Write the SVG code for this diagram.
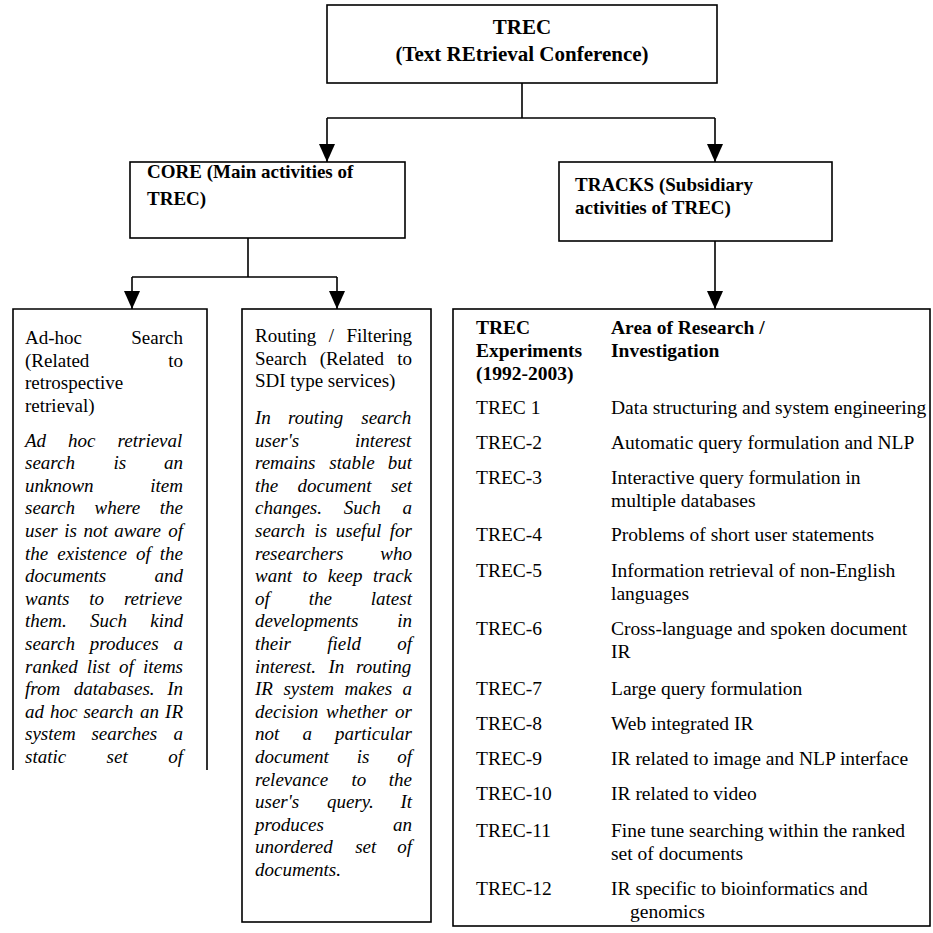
<svg xmlns="http://www.w3.org/2000/svg" width="933" height="933" viewBox="0 0 933 933">
<style>
.box{fill:#fff;stroke:#000;stroke-width:1.6}
.ln{fill:none;stroke:#000;stroke-width:1.6}
.t{font-family:"Liberation Serif","Times New Roman",serif;fill:#000}
.b{font-weight:bold}
.it{font-style:italic;font-size:19px}
.rm{font-size:19px}
.tb{font-size:19.5px}
</style>
<defs>
<marker id="arr" viewBox="0 0 18 16" refX="18" refY="8" markerWidth="18" markerHeight="16" markerUnits="userSpaceOnUse" orient="auto">
<path d="M0,0 L18,8 L0,16 z" fill="#000"/>
</marker>
</defs>
<rect width="933" height="933" fill="#fff"/>

<g id="connectors">
<path class="ln" d="M522,83 V118 M327,118 H715"/>
<path class="ln" d="M327,118 V162" marker-end="url(#arr)"/>
<path class="ln" d="M715,118 V162" marker-end="url(#arr)"/>
<path class="ln" d="M248,238 V277 M132,277 H337"/>
<path class="ln" d="M132,277 V309" marker-end="url(#arr)"/>
<path class="ln" d="M337,277 V309" marker-end="url(#arr)"/>
<path class="ln" d="M715,241 V309" marker-end="url(#arr)"/>
</g>

<g id="trec">
<rect class="box" x="327" y="5" width="390" height="78"/>
<text class="t b" x="522" y="34" font-size="21" text-anchor="middle">TREC</text>
<text class="t b" x="522" y="61" font-size="21" text-anchor="middle">(Text REtrieval Conference)</text>
</g>

<g id="core">
<rect class="box" x="130" y="162" width="275" height="76"/>
<text class="t b rm" x="147" y="178">CORE (Main activities of</text>
<text class="t b rm" x="147" y="205">TREC)</text>
</g>

<g id="tracks">
<rect class="box" x="559" y="162" width="273" height="79"/>
<text class="t b rm" x="575" y="191">TRACKS (Subsidiary</text>
<text class="t b rm" x="575" y="214">activities of TREC)</text>
</g>

<g id="adhoc">
<path class="ln" d="M13,770 V309 H207 V770"/>
<text class="t rm" y="344"><tspan x="25">Ad-hoc</tspan><tspan x="131.3">Search</tspan></text>
<text class="t rm" y="366.5"><tspan x="25">(Related</tspan><tspan x="168.2">to</tspan></text>
<text class="t rm" x="25" y="389">retrospective</text>
<text class="t rm" x="25" y="411.5">retrieval)</text>
<text class="t it" y="446.6"><tspan x="25">Ad</tspan><tspan x="68">hoc</tspan><tspan x="117.6">retrieval</tspan></text>
<text class="t it" y="469.2"><tspan x="25">search</tspan><tspan x="113.5">is</tspan><tspan x="164">an</tspan></text>
<text class="t it" y="491.8"><tspan x="25">unknown</tspan><tspan x="150.3">item</tspan></text>
<text class="t it" y="514.4"><tspan x="25">search</tspan><tspan x="94.5">where</tspan><tspan x="159.8">the</tspan></text>
<text class="t it" y="537"><tspan x="25">user</tspan><tspan x="64.2">is</tspan><tspan x="83.4">not</tspan><tspan x="114.2">aware</tspan><tspan x="168.2">of</tspan></text>
<text class="t it" y="559.6"><tspan x="25">the</tspan><tspan x="57.3">existence</tspan><tspan x="136">of</tspan><tspan x="159.8">the</tspan></text>
<text class="t it" y="582.2"><tspan x="25">documents</tspan><tspan x="154.5">and</tspan></text>
<text class="t it" y="604.8"><tspan x="25">wants</tspan><tspan x="89.2">to</tspan><tspan x="123.9">retrieve</tspan></text>
<text class="t it" y="627.4"><tspan x="25">them.</tspan><tspan x="90">Such</tspan><tspan x="150.3">kind</tspan></text>
<text class="t it" y="650"><tspan x="25">search</tspan><tspan x="89.7">produces</tspan><tspan x="173.5">a</tspan></text>
<text class="t it" y="672.6"><tspan x="25">ranked</tspan><tspan x="86.8">list</tspan><tspan x="119">of</tspan><tspan x="142.9">items</tspan></text>
<text class="t it" y="695.2"><tspan x="25">from</tspan><tspan x="73.8">databases.</tspan><tspan x="167.2">In</tspan></text>
<text class="t it" y="717.8"><tspan x="25">ad</tspan><tspan x="50">hoc</tspan><tspan x="83.4">search</tspan><tspan x="140.1">an</tspan><tspan x="165.1">IR</tspan></text>
<text class="t it" y="740.4"><tspan x="25">system</tspan><tspan x="91.4">searches</tspan><tspan x="173.5">a</tspan></text>
<text class="t it" y="763"><tspan x="25">static</tspan><tspan x="106.6">set</tspan><tspan x="168.2">of</tspan></text>
</g>

<g id="routing">
<rect class="box" x="242" y="309" width="189" height="613"/>
<text class="t rm" y="342"><tspan x="255">Routing</tspan><tspan x="328.7">/</tspan><tspan x="346.5">Filtering</tspan></text>
<text class="t rm" y="364.5"><tspan x="255">Search</tspan><tspan x="319.7">(Related</tspan><tspan x="397.2">to</tspan></text>
<text class="t rm" x="255" y="387">SDI type services)</text>
<text class="t it" y="424"><tspan x="255">In</tspan><tspan x="288">routing</tspan><tspan x="361.3">search</tspan></text>
<text class="t it" y="446.6"><tspan x="255">user's</tspan><tspan x="355">interest</tspan></text>
<text class="t it" y="469.2"><tspan x="255">remains</tspan><tspan x="329.3">stable</tspan><tspan x="387.7">but</tspan></text>
<text class="t it" y="491.8"><tspan x="255">the</tspan><tspan x="297.6">document</tspan><tspan x="390.9">set</tspan></text>
<text class="t it" y="514.4"><tspan x="255">changes.</tspan><tspan x="343.8">Such</tspan><tspan x="402.5">a</tspan></text>
<text class="t it" y="537"><tspan x="255">search</tspan><tspan x="314.4">is</tspan><tspan x="335.8">useful</tspan><tspan x="389.8">for</tspan></text>
<text class="t it" y="559.6"><tspan x="255">researchers</tspan><tspan x="380.3">who</tspan></text>
<text class="t it" y="582.2"><tspan x="255">want</tspan><tspan x="302.5">to</tspan><tspan x="327.7">keep</tspan><tspan x="373">track</tspan></text>
<text class="t it" y="604.8"><tspan x="255">of</tspan><tspan x="308.7">the</tspan><tspan x="370.8">latest</tspan></text>
<text class="t it" y="627.4"><tspan x="255">developments</tspan><tspan x="397.2">in</tspan></text>
<text class="t it" y="650"><tspan x="255">their</tspan><tspan x="327.2">field</tspan><tspan x="397.2">of</tspan></text>
<text class="t it" y="672.6"><tspan x="255">interest.</tspan><tspan x="328.5">In</tspan><tspan x="356">routing</tspan></text>
<text class="t it" y="695.2"><tspan x="255">IR</tspan><tspan x="283.4">system</tspan><tspan x="344.6">makes</tspan><tspan x="402.5">a</tspan></text>
<text class="t it" y="717.8"><tspan x="255">decision</tspan><tspan x="326.1">whether</tspan><tspan x="395.1">or</tspan></text>
<text class="t it" y="740.4"><tspan x="255">not</tspan><tspan x="302.4">a</tspan><tspan x="334.9">particular</tspan></text>
<text class="t it" y="763"><tspan x="255">document</tspan><tspan x="356.7">is</tspan><tspan x="397.2">of</tspan></text>
<text class="t it" y="785.6"><tspan x="255">relevance</tspan><tspan x="351.5">to</tspan><tspan x="388.8">the</tspan></text>
<text class="t it" y="808.2"><tspan x="255">user's</tspan><tspan x="326.9">query.</tspan><tspan x="400.4">It</tspan></text>
<text class="t it" y="830.8"><tspan x="255">produces</tspan><tspan x="393">an</tspan></text>
<text class="t it" y="853.4"><tspan x="255">unordered</tspan><tspan x="355.2">set</tspan><tspan x="397.2">of</tspan></text>
<text class="t it" x="255" y="876">documents.</text>
</g>

<g id="table">
<rect class="box" x="453" y="309" width="477" height="617"/>
<text class="t b tb" x="476" y="334">TREC</text>
<text class="t b tb" x="476" y="357">Experiments</text>
<text class="t b tb" x="476" y="380">(1992-2003)</text>
<text class="t b tb" x="611" y="334">Area of Research /</text>
<text class="t b tb" x="611" y="357">Investigation</text>
<g class="t tb">
<text x="476" y="414">TREC 1</text><text x="611" y="414">Data structuring and system engineering</text>
<text x="476" y="449">TREC-2</text><text x="611" y="449">Automatic query formulation and NLP</text>
<text x="476" y="484">TREC-3</text><text x="611" y="484">Interactive query formulation in</text>
<text x="611" y="507">multiple databases</text>
<text x="476" y="541">TREC-4</text><text x="611" y="541">Problems of short user statements</text>
<text x="476" y="577">TREC-5</text><text x="611" y="577">Information retrieval of non-English</text>
<text x="611" y="600">languages</text>
<text x="476" y="635">TREC-6</text><text x="611" y="635">Cross-language and spoken document</text>
<text x="611" y="658">IR</text>
<text x="476" y="695">TREC-7</text><text x="611" y="695">Large query formulation</text>
<text x="476" y="730">TREC-8</text><text x="611" y="730">Web integrated IR</text>
<text x="476" y="765">TREC-9</text><text x="611" y="765">IR related to image and NLP interface</text>
<text x="476" y="800">TREC-10</text><text x="611" y="800">IR related to video</text>
<text x="476" y="837">TREC-11</text><text x="611" y="837">Fine tune searching within the ranked</text>
<text x="611" y="860">set of documents</text>
<text x="476" y="895">TREC-12</text><text x="611" y="895">IR specific to bioinformatics and</text>
<text x="630" y="918">genomics</text>
</g>
</g>
</svg>
